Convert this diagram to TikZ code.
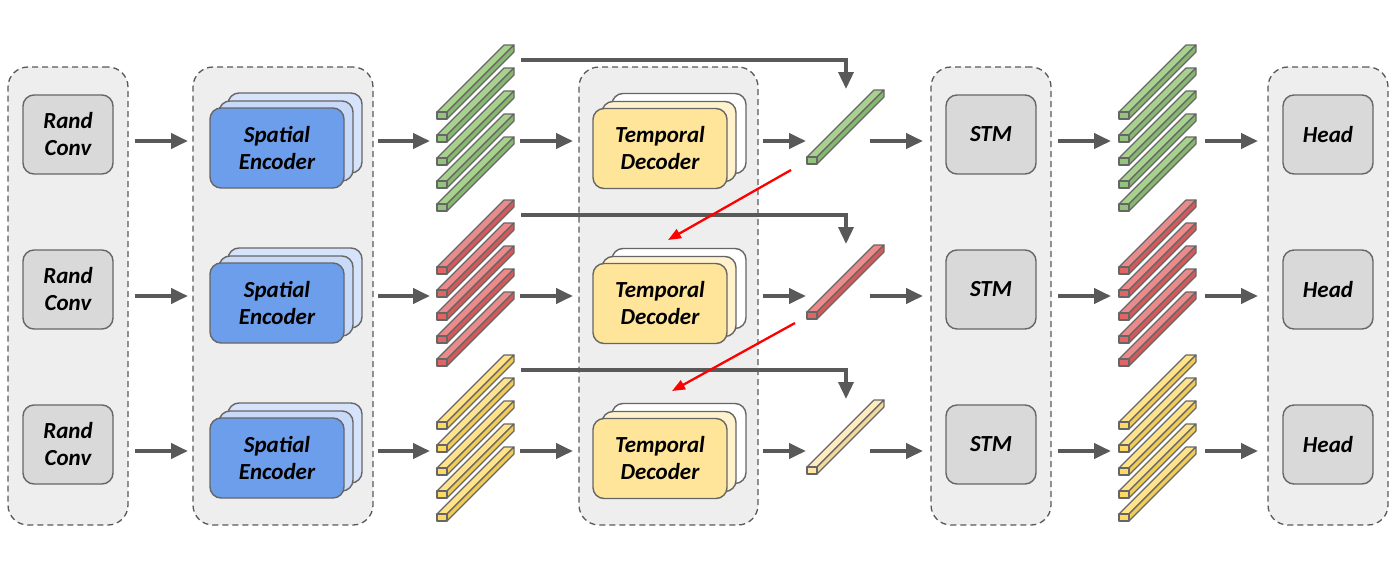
\documentclass[tikz,border=0pt]{standalone}
\usepackage{fontspec}
\setmainfont{Carlito}
\usetikzlibrary{arrows.meta}
\definecolor{grpfill}{HTML}{EEEEEE}
\definecolor{grpline}{HTML}{595959}
\definecolor{boxline}{HTML}{666666}
\definecolor{rcfill}{HTML}{D9D9D9}
\definecolor{arrcol}{HTML}{595959}
\definecolor{seF}{HTML}{6D9EEB}
\definecolor{seM}{HTML}{C9DAF8}
\definecolor{seB}{HTML}{D6E3FA}
\definecolor{tdF}{HTML}{FFE599}
\definecolor{tdM}{HTML}{FFF2CC}
\definecolor{tdB}{HTML}{FFFFFF}
\definecolor{gF}{HTML}{93C47D}
\definecolor{gT}{HTML}{A9D18E}
\definecolor{gS}{HTML}{86B86F}
\definecolor{rF}{HTML}{E06666}
\definecolor{rT}{HTML}{EA8A8A}
\definecolor{rS}{HTML}{D45A5A}
\definecolor{yF}{HTML}{FFD966}
\definecolor{yT}{HTML}{FFE38C}
\definecolor{yS}{HTML}{F2CC58}
\definecolor{lF}{HTML}{FFE6A6}
\definecolor{lT}{HTML}{FDEBBE}
\definecolor{lS}{HTML}{F2DA9C}
\newcommand\tbar[3]{%
  \filldraw[barline, fill=#3T] (#1,#2-7) -- ++(10,0) -- ++(67,-67) -- ++(-10,0) -- cycle;
  \filldraw[barline, fill=#3S] (#1+10,#2-7) -- ++(0,7) -- ++(67,-67) -- ++(0,-7) -- cycle;
  \filldraw[barline, fill=#3F] (#1,#2) rectangle ++(10,-7);
}
\begin{document}
\begin{tikzpicture}[x=1pt,y=-1pt,
  grp/.style={draw=grpline, fill=grpfill, dashed, dash pattern=on 6pt off 4pt, line width=1.3pt, rounded corners=20pt, minimum width=120pt, minimum height=458pt, inner sep=0pt},
  blk/.style={draw=boxline, line width=1.4pt, rounded corners=11pt, inner sep=0pt, align=center, font=\fontsize{23}{27}\selectfont\bfseries\itshape},
  small/.style={blk, minimum width=90pt, minimum height=79pt, fill=rcfill},
  wide/.style={blk, minimum width=134pt, minimum height=80pt},
  barline/.style={draw=boxline, line width=1.1pt, line join=round},
  arr/.style={draw=arrcol, line width=4pt, -{Triangle[length=17pt,width=15pt]}},
  skip/.style={draw=arrcol, line width=3.5pt, -{Triangle[length=17pt,width=15pt]}},
  redarr/.style={draw=red, line width=2.3pt, -{Triangle[length=13pt,width=10pt]}}
]
\useasboundingbox (0,0) rectangle (1398,587);
% groups
\node[grp] (g1) at (68,296) {};
\node[grp, minimum width=180pt] (g2) at (283,296) {};
\node[grp, minimum width=179pt] (g3) at (668.5,296) {};
\node[grp] (g4) at (991,296) {};
\node[grp] (g5) at (1328,296) {};
\foreach \r/\c/\d in {0/g/g, 1/r/r, 2/y/l} {
  \pgfmathsetmacro\Y{155*\r}
  % rand conv, stm, head
  \node[small] (rc\r) at (68,134.5+\Y) {Rand\\Conv};
  \node[small] (stm\r) at (991,134.5+\Y) {STM};
  \node[small] (hd\r) at (1328,134.5+\Y) {Head};
  % spatial encoder stack
  \node[wide, fill=seB] (seb\r) at (277+18,148+\Y-15) {};
  \node[wide, fill=seM] (sem\r) at (277+9,148+\Y-7) {};
  \node[wide, fill=seF] (se\r) at (277,148+\Y) {Spatial\\Encoder};
  % temporal decoder stack
  \node[wide, fill=tdB] (tdb\r) at (660+19,148.5+\Y-15) {};
  \node[wide, fill=tdM] (tdm\r) at (660+9,148.5+\Y-7) {};
  \node[wide, fill=tdF] (td\r) at (660,148.5+\Y) {Temporal\\Decoder};
  % token stacks
  \foreach \k in {0,...,4} {
    \tbar{437}{119+23*\k+\Y}{\c}
    \tbar{1119}{119+23*\k+\Y}{\c}
  }
  \tbar{807}{164+\Y}{\d}
  % arrow coordinates
  \coordinate (a1s\r) at (135,141+\Y);  \coordinate (a1e\r) at (188,141+\Y);
  \coordinate (a2s\r) at (378,141+\Y);  \coordinate (a2e\r) at (430,141+\Y);
  \coordinate (a3s\r) at (520,141+\Y);  \coordinate (a3e\r) at (573,141+\Y);
  \coordinate (a4s\r) at (763,141+\Y);  \coordinate (a4e\r) at (806,141+\Y);
  \coordinate (a5s\r) at (870,141+\Y);  \coordinate (a5e\r) at (923,141+\Y);
  \coordinate (a6s\r) at (1058,141+\Y); \coordinate (a6e\r) at (1111,141+\Y);
  \coordinate (a7s\r) at (1205,141+\Y); \coordinate (a7e\r) at (1258,141+\Y);
  \foreach \a in {1,...,7} { \draw[arr] (a\a s\r) -- (a\a e\r); }
  % skip connection
  \coordinate (sks\r) at (521,60+\Y);
  \coordinate (ske\r) at (846,89+\Y);
  \draw[skip] (sks\r) -| (ske\r);
}
% red arrows
\coordinate (ra1) at (791,170);
\coordinate (rb1) at (668,240);
\coordinate (ra2) at (795,323);
\coordinate (rb2) at (672,391);
\draw[redarr] (ra1) -- (rb1);
\draw[redarr] (ra2) -- (rb2);
\end{tikzpicture}
\end{document}
